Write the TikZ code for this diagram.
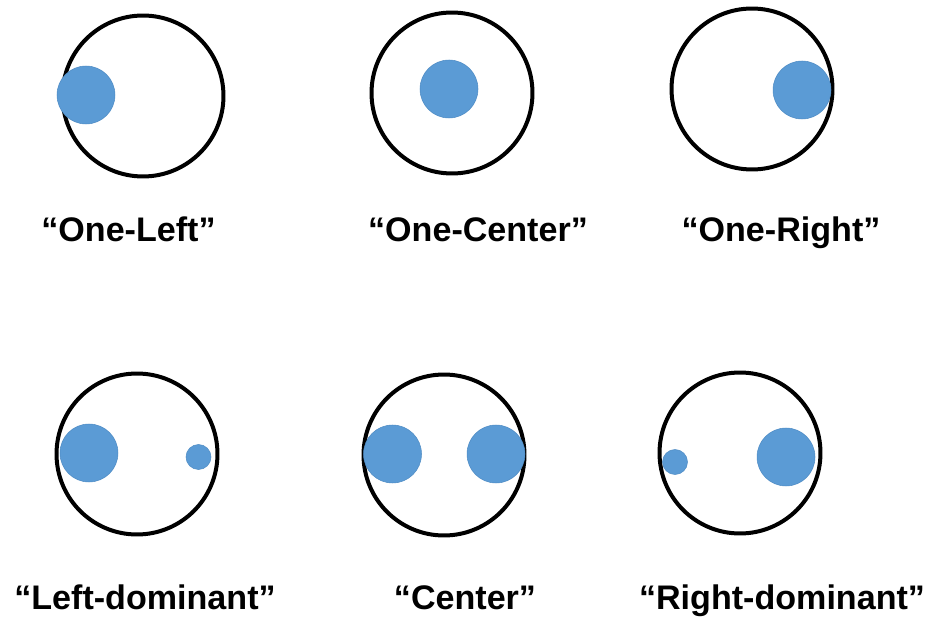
\documentclass[tikz,border=0pt]{standalone}
\usepackage{fontspec}
\setmainfont{Liberation Sans}
\usetikzlibrary{positioning}
\definecolor{dotBlue}{HTML}{5B9BD5}
\definecolor{dotEdge}{HTML}{4F8CC4}
\tikzset{
  ring/.style={circle, draw=black, line width=0.08cm, minimum size=3.22cm,
               inner sep=0pt},
  dotBig/.style={circle, fill=dotBlue, draw=dotEdge, line width=0.3pt,
                 minimum size=1.16cm, inner sep=0pt},
  dotSmall/.style={circle, fill=dotBlue, draw=dotEdge, line width=0.3pt,
                   minimum size=0.5cm, inner sep=0pt},
  caption/.style={font=\fontsize{19.4}{23}\selectfont\bfseries, inner sep=0pt,
                  anchor=base},
}
\begin{document}
\begin{tikzpicture}[x=0.02cm, y=-0.02cm]
    \useasboundingbox (0,0) rectangle (932,621);
    % top row
    \node[ring] (r1) at (143,96) {};
    \node[ring] (r2) at (452,93) {};
    \node[ring] (r3) at (752,89) {};
    \node[dotBig] (d1) at (86,95) {};
    \node[dotBig] (d2) at (449,89) {};
    \node[dotBig] (d3) at (802,90) {};
    \node[caption] (t1) at (128.5,242) {“One-Left”};
    \node[caption] (t2) at (478,242) {“One-Center”};
    \node[caption] (t3) at (781,242) {“One-Right”};
    % bottom row
    \node[ring] (r4) at (137,454) {};
    \node[ring] (r5) at (444,455) {};
    \node[ring] (r6) at (740,453) {};
    \node[dotBig]   (d4a) at (89,453) {};
    \node[dotSmall] (d4b) at (198.5,457) {};
    \node[dotBig]   (d5a) at (392.5,454) {};
    \node[dotBig]   (d5b) at (496,454) {};
    \node[dotSmall] (d6a) at (675,462) {};
    \node[dotBig]   (d6b) at (786,457) {};
    \node[caption] (t4) at (145,609) {“Left-dominant”};
    \node[caption] (t5) at (465,609) {“Center”};
    \node[caption] (t6) at (782,609) {“Right-dominant”};
  \end{tikzpicture}
\end{document}
